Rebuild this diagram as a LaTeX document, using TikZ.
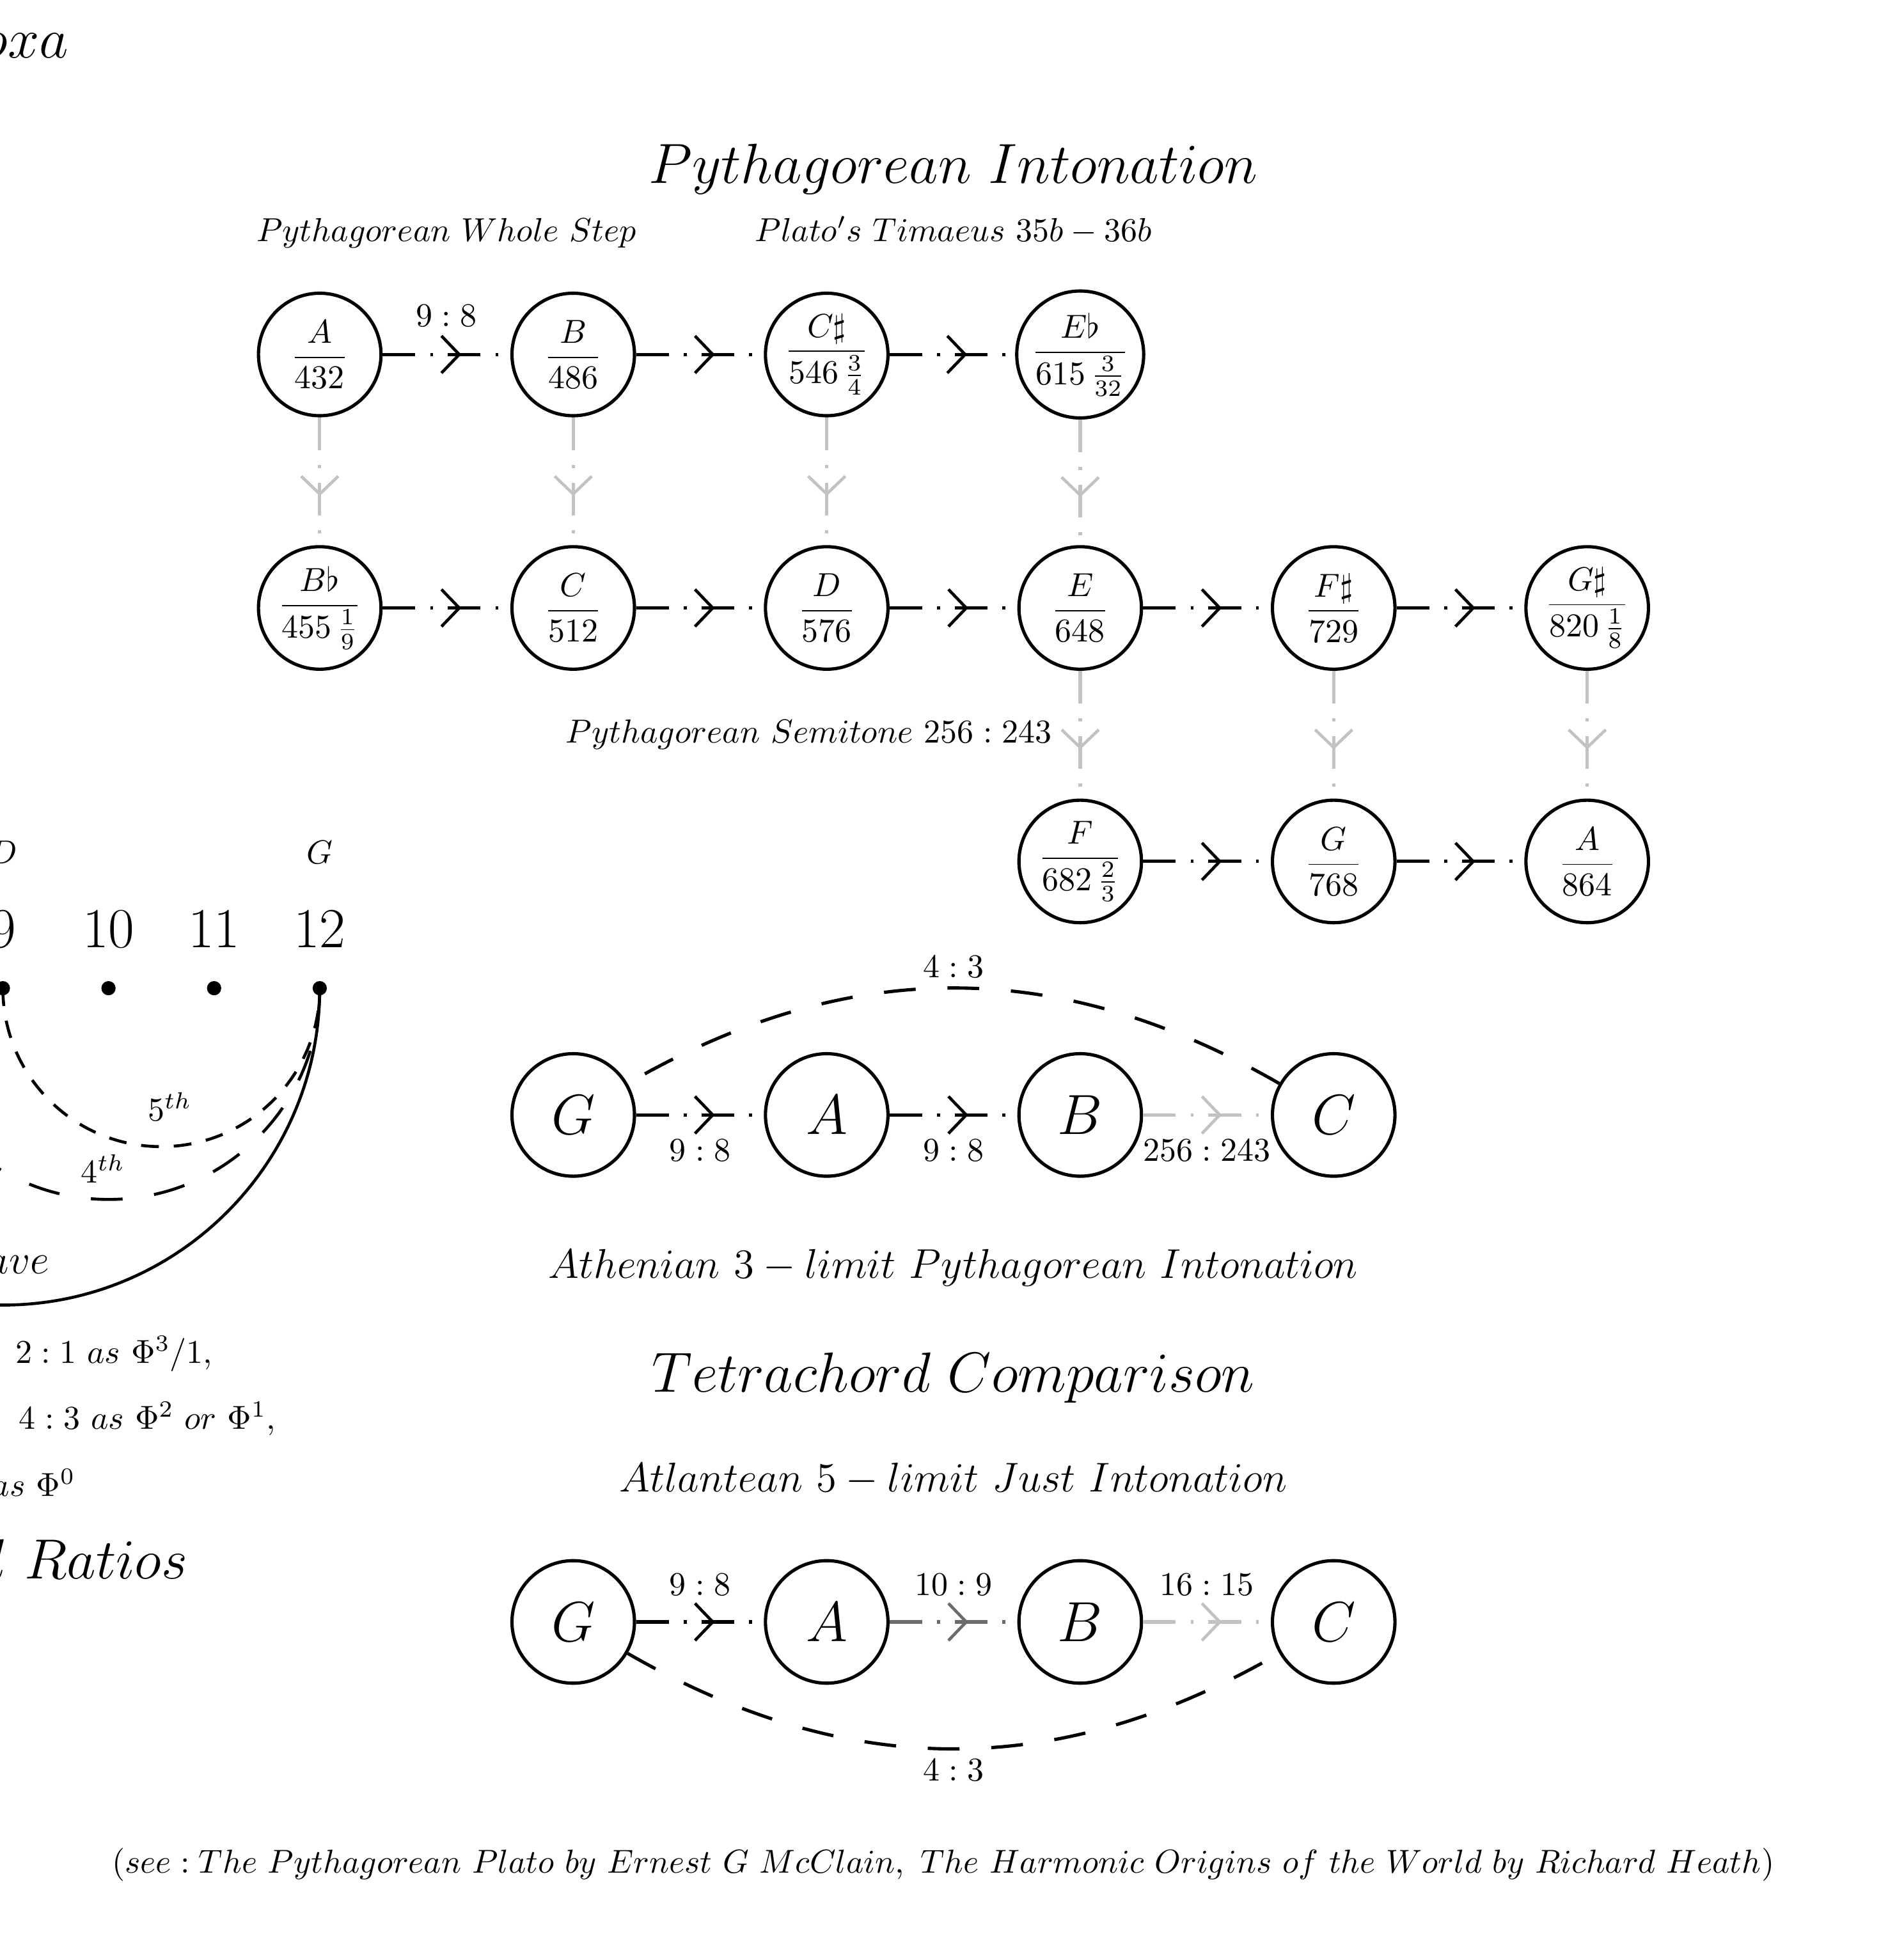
\RequirePackage{fix-cm}
\documentclass[tikz,border=0pt]{standalone}
\usetikzlibrary{arrows.meta,decorations.markings}
\newcommand{\fsBig}{\fontsize{19.05pt}{23pt}\selectfont}
\newcommand{\fsSub}{\fontsize{14pt}{17pt}\selectfont}
\newcommand{\fsMid}{\fontsize{11.2pt}{14pt}\selectfont}
\newcommand{\fsRef}{\fontsize{11.15pt}{14pt}\selectfont}
\definecolor{lgray}{gray}{0.76}
\definecolor{mgray}{gray}{0.42}
\tikzset{
  ring/.style={circle, draw, line width=1.1pt, minimum size=1.45cm, inner sep=0pt, font=\fsMid},
  bigring/.style={ring, font=\fsBig},
  barbmark/.style={postaction={decorate}, decoration={markings, mark=at position 0.5 with {\pgftransformxshift{5pt}\arrow[line width=1pt]{Straight Barb[length=6pt,width=12.5pt]}}}},
  conn/.style={line width=1.1pt, dash pattern=on 11pt off 5pt on 1pt off 5pt, barbmark},
  vconn/.style={conn, draw=lgray, color=lgray},
  mconn/.style={conn, draw=mgray, color=mgray},
  elab/.style={font=\fsMid, midway, inner sep=0pt},
  txt/.style={inner sep=0pt},
  longdash/.style={line width=1.1pt, dash pattern=on 10.7pt off 10.7pt},
  shortdash/.style={line width=1pt, dash pattern=on 6pt off 5pt},
}
\begin{document}
\begin{tikzpicture}
\useasboundingbox (-3.784,-18.80) rectangle (18.745,4.195);
\clip (-3.784,-18.80) rectangle (18.745,4.195);

% ---------- titles ----------
\node[txt, anchor=base, font=\fsBig] (oxa) at (-3.49,3.513) {$oxa$};
\node[txt, anchor=base, font=\fsBig] (t1) at (7.5,2.024) {$Pythagorean\ Intonation$};
\node[txt, anchor=base, font=\fsMid] (s1) at (1.5,1.335) {$Pythagorean\ Whole\ Step$};
\node[txt, anchor=base, font=\fsMid] (s2) at (7.5,1.335) {$Plato's\ Timaeus\ 35b-36b$};

% ---------- Pythagorean grid ----------
\node[ring] (A)  at (0,0)  {$\displaystyle\frac{A}{432}$};
\node[ring] (B)  at (3,0)  {$\displaystyle\frac{B}{486}$};
\node[ring] (Cs) at (6,0)  {$\displaystyle\frac{C\sharp}{546\,\frac{3}{4}}$};
\node[ring] (Eb) at (9,0)  {$\displaystyle\frac{E\flat}{615\,\frac{3}{32}}$};

\node[ring] (Bb) at (0,-3)  {$\displaystyle\frac{B\flat}{455\,\frac{1}{9}}$};
\node[ring] (C)  at (3,-3)  {$\displaystyle\frac{C}{512}$};
\node[ring] (D)  at (6,-3)  {$\displaystyle\frac{D}{576}$};
\node[ring] (E)  at (9,-3)  {$\displaystyle\frac{E}{648}$};
\node[ring] (Fs) at (12,-3) {$\displaystyle\frac{F\sharp}{729}$};
\node[ring] (Gs) at (15,-3) {$\displaystyle\frac{G\sharp}{820\,\frac{1}{8}}$};

\node[ring] (F)  at (9,-6)  {$\displaystyle\frac{F}{682\,\frac{2}{3}}$};
\node[ring] (G)  at (12,-6) {$\displaystyle\frac{G}{768}$};
\node[ring] (A2) at (15,-6) {$\displaystyle\frac{A}{864}$};

\draw[conn] (A) -- node[elab, yshift=0.455cm] {$9:8$} (B);
\draw[conn] (B) -- (Cs);
\draw[conn] (Cs) -- (Eb);
\draw[conn] (Bb) -- (C);
\draw[conn] (C) -- (D);
\draw[conn] (D) -- (E);
\draw[conn] (E) -- (Fs);
\draw[conn] (Fs) -- (Gs);
\draw[conn] (F) -- (G);
\draw[conn] (G) -- (A2);

\draw[vconn] (A) -- (Bb);
\draw[vconn] (B) -- (C);
\draw[vconn] (Cs) -- (D);
\draw[vconn] (Eb) -- (E);
\draw[vconn] (E) -- node[elab, anchor=east, xshift=-0.32cm, color=black] {$Pythagorean\ Semitone\ 256:243$} (F);
\draw[vconn] (Fs) -- (G);
\draw[vconn] (Gs) -- (A2);

% ---------- Athenian tetrachord ----------
\node[bigring] (tG) at (3,-9)  {$G$};
\node[bigring] (tA) at (6,-9)  {$A$};
\node[bigring] (tB) at (9,-9)  {$B$};
\node[bigring] (tC) at (12,-9) {$C$};
\draw[conn] (tG) -- node[elab, yshift=-0.42cm] {$9:8$} (tA);
\draw[conn] (tA) -- node[elab, yshift=-0.42cm] {$9:8$} (tB);
\draw[vconn] (tB) -- node[elab, yshift=-0.42cm, color=black] {$256:243$} (tC);
\draw[longdash] (tC.150) .. controls +(150:3.015) and +(30:3.015) .. node[pos=0.5, above, font=\fsMid, inner sep=3pt] {$4:3$} (tG.30);

\node[txt, anchor=base, font=\fsSub] (ath) at (7.5,-10.93) {$Athenian\ 3-limit\ Pythagorean\ Intonation$};
\node[txt, anchor=base, font=\fsBig] (t2) at (7.5,-12.28) {$Tetrachord\ Comparison$};
\node[txt, anchor=base, font=\fsSub] (atl) at (7.5,-13.46) {$Atlantean\ 5-limit\ Just\ Intonation$};

% ---------- Atlantean tetrachord ----------
\node[bigring] (uG) at (3,-15)  {$G$};
\node[bigring] (uA) at (6,-15)  {$A$};
\node[bigring] (uB) at (9,-15)  {$B$};
\node[bigring] (uC) at (12,-15) {$C$};
\draw[conn] (uG) -- node[elab, yshift=0.44cm] {$9:8$} (uA);
\draw[mconn] (uA) -- node[elab, yshift=0.44cm, color=black] {$10:9$} (uB);
\draw[vconn] (uB) -- node[elab, yshift=0.44cm, color=black] {$16:15$} (uC);
\draw[longdash] (uG.-30) .. controls +(-30:3.015) and +(-150:3.015) .. node[pos=0.5, below, font=\fsMid, inner sep=3pt] {$4:3$} (uC.-150);

\node[txt, anchor=base, font=\fsRef] (ref) at (7.38,-17.97) {$(see:The\ Pythagorean\ Plato\ by\ Ernest\ G\ McClain,\ The\ Harmonic\ Origins\ of\ the\ World\ by\ Richard\ Heath)$};

% ---------- left: number line and arcs ----------
\node[font=\fsMid] (lD) at (-3.75,-5.896) {$D$};
\node[font=\fsMid] (lG) at (0,-5.896) {$G$};
\node[font=\fsBig] (l9)  at (-3.75,-6.805) {$9$};
\node[font=\fsBig] (l10) at (-2.5,-6.805) {$10$};
\node[font=\fsBig] (l11) at (-1.25,-6.805) {$11$};
\node[font=\fsBig] (l12) at (0,-6.805) {$12$};
\coordinate (d9)  at (-3.75,-7.5);
\coordinate (d10) at (-2.5,-7.5);
\coordinate (d11) at (-1.25,-7.5);
\coordinate (d12) at (0,-7.5);
\foreach \d in {d9,d10,d11,d12} \fill (\d) circle[radius=2.4pt];

\draw[line width=1pt] (d12) arc[start angle=0, end angle=-180, radius=3.75cm];
\draw[longdash, line width=1pt] (d12) arc[start angle=0, end angle=-180, radius=2.5cm];
\draw[shortdash] (d9) arc[start angle=180, end angle=360, radius=1.875cm];
\node[font=\fsMid] (l5th) at (-1.775,-8.903) {$5^{th}$};
\node[font=\fsMid] (l4th) at (-2.567,-9.636) {$4^{th}$};
\node[txt, anchor=base east, font=\fsSub] (loct) at (-3.197,-10.88) {$ave$};

\node[txt, anchor=base west, font=\fsMid] (r1) at (-3.608,-11.94) {$2:1\ as\ \Phi^3/1,$};
\node[txt, anchor=base west, font=\fsMid] (r2) at (-3.564,-12.72) {$4:3\ as\ \Phi^2\ or\ \Phi^1,$};
\node[txt, anchor=base east, font=\fsMid] (r3) at (-2.889,-13.51) {$as\ \Phi^0$};
\node[txt, anchor=base east, font=\fsBig] (r4) at (-1.555,-14.49) {$l\ Ratios$};
\end{tikzpicture}
\end{document}
